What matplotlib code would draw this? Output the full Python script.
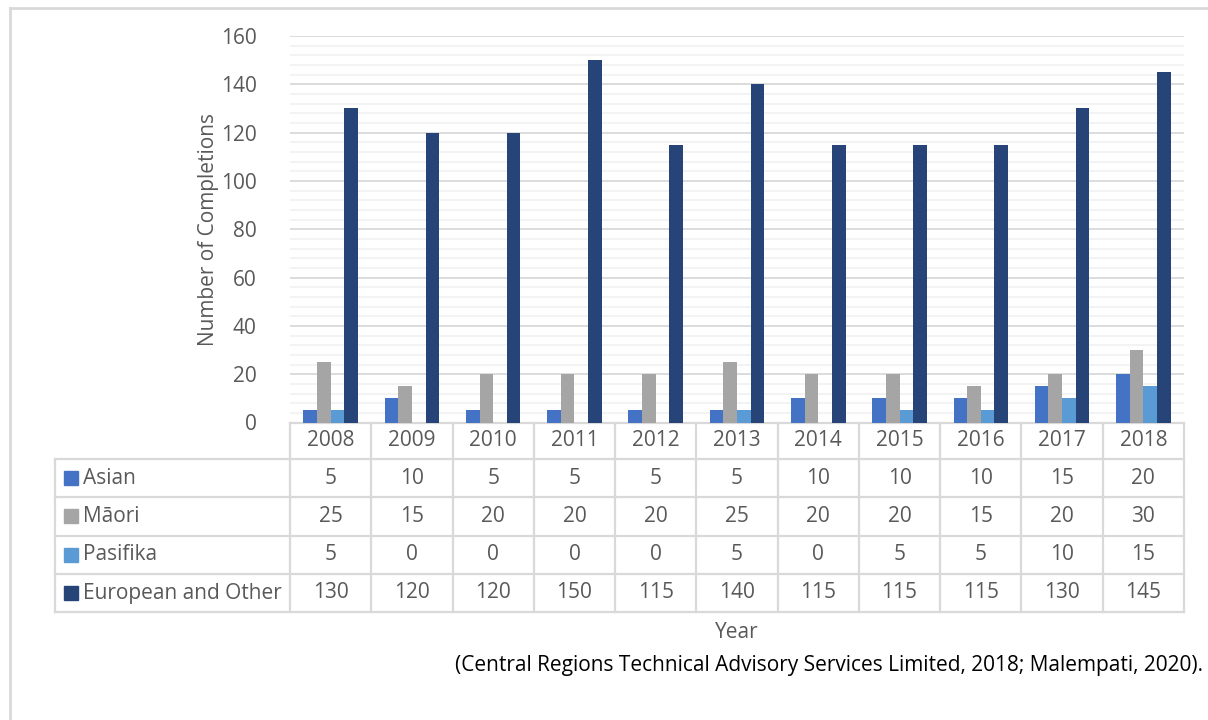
import matplotlib
matplotlib.use("Agg")
import matplotlib.pyplot as plt
from matplotlib.lines import Line2D
from matplotlib.patches import Rectangle
import numpy as np

years = ["2008", "2009", "2010", "2011", "2012", "2013", "2014", "2015", "2016", "2017", "2018"]
series_names = ["Asian", "M\u0101ori", "Pasifika", "European and Other"]
asian = [5, 10, 5, 5, 5, 5, 10, 10, 10, 15, 20]
maori = [25, 15, 20, 20, 20, 25, 20, 20, 15, 20, 30]
pasifika = [5, 0, 0, 0, 0, 5, 0, 5, 5, 10, 15]
european = [130, 120, 120, 150, 115, 140, 115, 115, 115, 130, 145]
colors = ["#4472C4", "#A5A5A5", "#5B9BD5", "#264478"]
y_ticks = [0, 20, 40, 60, 80, 100, 120, 140, 160]
source_text = "(Central Regions Technical Advisory Services Limited, 2018; Malempati, 2020)."

plt.rcParams['font.family'] = ['Open Sans', 'DejaVu Sans']
FS = 15
TXT = "#595959"
W, H = 1208, 720
fig = plt.figure(figsize=(W / 100, H / 100), dpi=100)

# plot area in pixels
px_left, px_right, px_top, px_bottom = 290, 1184, 36, 422.5
ax = fig.add_axes([px_left / W, 1 - px_bottom / H, (px_right - px_left) / W, (px_bottom - px_top) / H])
ax_h = px_bottom - px_top
ax_w = px_right - px_left

def ay(ypx):
    return (px_bottom - ypx) / ax_h

def axx(xpx):
    return (xpx - px_left) / ax_w

data = [asian, maori, pasifika, european]
n = len(years)
x = np.arange(n)
bw = 0.168
for k, (vals, c) in enumerate(zip(data, colors)):
    ax.bar(x + (k - 1.5) * bw, vals, width=bw, color=c, zorder=3)

ax.set_xlim(-0.5, n - 0.5)
ax.set_ylim(0, 160)
ax.set_yticks(y_ticks)
ax.set_yticks(np.arange(0, 161, 4), minor=True)
ax.set_yticklabels([str(t) for t in y_ticks], fontsize=FS, color=TXT)
ax.tick_params(axis='y', length=0, pad=24, which='both')
ax.set_xticks([])
ax.grid(axis='y', which='major', color="#D9D9D9", lw=1.3, zorder=0)
ax.grid(axis='y', which='minor', color="#F0F0F0", lw=1.1, zorder=0)
for s in ax.spines.values():
    s.set_visible(False)

ax.text(axx(208), 0.5, "Number of Completions", rotation=90, transform=ax.transAxes,
        ha='center', va='center', fontsize=FS, color=TXT)

# data table
tr = ax.get_xaxis_transform()
ta = ax.transAxes
gc = "#D9D9D9"
row_lines = [459, 497, 535.5, 574, 612]
# header top line
ax.add_line(Line2D([-0.5, n - 0.5], [ay(422.5), ay(422.5)], transform=tr, color=gc, lw=1.6, clip_on=False))
for yl in row_lines:
    ax.add_line(Line2D([axx(55), 1], [ay(yl), ay(yl)], transform=ta, color=gc, lw=1.6, clip_on=False))
for j in range(n + 1):
    ax.add_line(Line2D([j - 0.5, j - 0.5], [ay(422.5), ay(612)], transform=tr, color=gc, lw=1.6, clip_on=False))
ax.add_line(Line2D([axx(55), axx(55)], [ay(459), ay(612)], transform=ta, color=gc, lw=1.6, clip_on=False))

header_c = (422.5 + 459) / 2
for i, yr in enumerate(years):
    ax.text(i, ay(header_c), yr, transform=tr, ha='center', va='center', fontsize=FS, color=TXT)
bounds = row_lines
for r, (name, vals, c) in enumerate(zip(series_names, data, colors)):
    yc = (bounds[r] + bounds[r + 1]) / 2
    for i, v in enumerate(vals):
        ax.text(i, ay(yc), str(v), transform=tr, ha='center', va='center', fontsize=FS, color=TXT)
    ax.add_patch(Rectangle((axx(64), ay(yc + 7)), 14 / ax_w, 14 / ax_h, transform=ta,
                           color=c, clip_on=False))
    ax.text(axx(83), ay(yc), name, transform=ta, ha='left', va='center', fontsize=FS, color=TXT)

ax.text(axx(737), ay(632), "Year", transform=ta, ha='center', va='center', fontsize=FS, color=TXT)

fig.text(1203 / W, 1 - 665 / H, source_text, ha='right', va='center', fontsize=FS, color="#000000")

# outer border (left and top)
fig.add_artist(Line2D([10 / W, 10 / W], [0, 1 - 7.5 / H], transform=fig.transFigure, color=gc, lw=2))
fig.add_artist(Line2D([10 / W, 1], [1 - 7.5 / H, 1 - 7.5 / H], transform=fig.transFigure, color=gc, lw=2))

fig.savefig("out.png", dpi=100)
